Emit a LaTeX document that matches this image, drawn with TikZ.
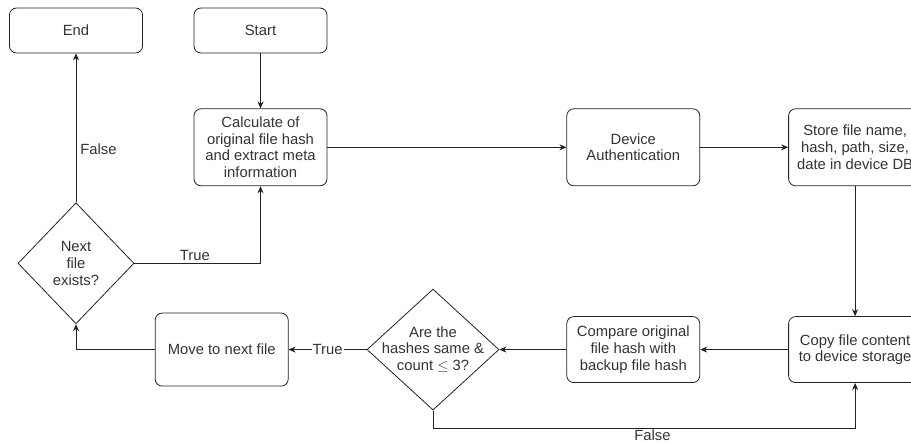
\documentclass[tikz,border=0pt]{standalone}
\usepackage{fontspec}
\setmainfont{Liberation Sans}
\usetikzlibrary{arrows.meta, positioning, shapes.geometric}
\definecolor{grisLinea}{HTML}{222222}
\definecolor{grisTexto}{HTML}{333333}
\tikzset{
  boxBase/.style={
    draw=grisLinea, line width=0.8pt, rounded corners=7pt,
    minimum height=45pt, minimum width=133pt, inner sep=2pt,
    align=center, font=\fontsize{14.8}{16.8}\selectfont, text=grisTexto,
    fill=white
  },
  boxTall/.style={boxBase, minimum height=77pt},
  boxMid/.style={boxBase, minimum height=66pt},
  boxDecision/.style={diamond, draw=grisLinea, line width=0.8pt, inner sep=-12pt,
    minimum width=132pt, minimum height=121pt, aspect=1.1,
    align=center, font=\fontsize{14.8}{16.8}\selectfont, text=grisTexto, fill=white},
  arrowMain/.style={-{Stealth[length=7pt, width=6pt]}, line width=0.8pt, grisLinea},
  labelArrow/.style={font=\fontsize{14.8}{16.8}\selectfont, text=grisTexto, fill=white, inner sep=1pt},
}
\begin{document}
\begin{tikzpicture}[x=1pt, y=-1pt]
    \useasboundingbox (0,0) rectangle (911,443);
    \clip (0,0) rectangle (911,443);
    \node[boxBase] (start) at (260.5,30.5) {Start};
    \node[boxBase] (end) at (76,30.5) {End};
    \node[boxTall, below=55pt of start] (calc) {Calculate of\\original file hash\\and extract meta\\information};
    \node[boxTall, right=239pt of calc] (auth) {Device\\Authentication};
    \node[boxTall, right=88pt of auth] (store) {Store file name,\\hash, path, size,\\date in device DB};
    \node[boxMid, below=130pt of store] (copy) {Copy file content\\to device storage};
    \node[boxMid, left=88pt of copy] (compare) {Compare original\\file hash with\\backup file hash};
    \node[boxDecision, left=67pt of compare] (same) {Are the\\hashes same \&\\count $\leq$ 3?};
    \node[boxBase, minimum height=73pt, left=78pt of same] (move) {Move to next file};
    \node[boxDecision, minimum width=116pt, below=149pt of end] (next) {Next\\file\\exists?};
    % bottom route
    \coordinate (falseTurn) at (same.south |- 0,428);
    \draw[arrowMain] (start) -- (calc);
    \draw[arrowMain] (calc) -- (auth);
    \draw[arrowMain] (auth) -- (store);
    \draw[arrowMain] (store) -- (copy);
    \draw[arrowMain] (copy) -- (compare);
    \draw[arrowMain] (compare) -- (same);
    \draw[arrowMain] (same) -- node[labelArrow] {True} (move);
    \draw[arrowMain] (move) -| (next);
    \draw[arrowMain] (next) -- node[labelArrow, fill=none, pos=0.36, right=3pt] {False} (end);
    \draw[arrowMain] (next) -| node[labelArrow, fill=none, pos=0.24, above=1pt] {True} (calc);
    \draw[arrowMain] (same) -- (falseTurn) -| node[labelArrow, fill=none, pos=0.26, below=0pt] {False} (copy);
\end{tikzpicture}
\end{document}
